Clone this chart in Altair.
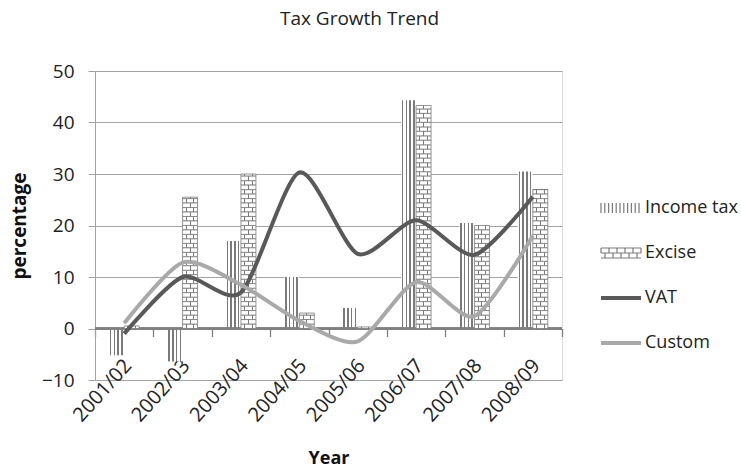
import altair as alt
import pandas as pd
import math

years = ["2001/02", "2002/03", "2003/04", "2004/05", "2005/06", "2006/07", "2007/08", "2008/09"]
income_tax = [-5.2, -6.4, 17, 10, 4, 44.3, 20.5, 30.5]
excise = [0.5, 25.5, 30, 3, 0.3, 43.3, 20, 27]
vat = [-1, 10, 7, 30.3, 14.5, 21, 14.3, 25.6]
custom = [1, 12.8, 8.5, 1.5, -2.5, 9, 2.4, 18]
series_names = ["Income tax", "Excise", "VAT", "Custom"]
y_ticks = [-10, 0, 10, 20, 30, 40, 50]

FONT = "Open Sans"
GRID = "#a3a3a3"
AXIS = "#7f7f7f"
BAR_GRAY = "#7a7a7a"
VAT_COLOR = "#595959"
CUSTOM_COLOR = "#a9a9a9"

df_income = pd.DataFrame({"Year": years, "Series": "Income tax", "Value": income_tax})
# category boundaries (between the year bands) for the tick marks under the zero line
bounds = list(range(len(years) + 1))
df_bounds = pd.DataFrame({"b": bounds, "t0": 0.0})

# brick rows for the excise pattern
ROW = 0.87
rows = []
for yr, v in zip(years, excise):
    n = max(1, math.ceil(v / ROW - 1e-9))
    for k in range(n):
        rows.append({"Year": yr, "Series": "Excise", "y0": k * ROW,
                     "y1": min((k + 1) * ROW, v), "parity": k % 2})
df_bricks = pd.DataFrame(rows)

df_lines = pd.DataFrame({
    "Year": years * 2,
    "Series": ["VAT"] * len(years) + ["Custom"] * len(years),
    "Value": vat + custom,
})
df_legend = pd.DataFrame({"Series": series_names})


def stripes(centers, w, color, bg="white"):
    stops = []
    for c in centers:
        a, b = max(0.0, c - w / 2), min(1.0, c + w / 2)
        stops += [{"offset": a, "color": bg}, {"offset": a, "color": color},
                  {"offset": b, "color": color}, {"offset": b, "color": bg}]
    stops = [{"offset": 0, "color": bg}] + stops + [{"offset": 1, "color": bg}]
    return {"gradient": "linear", "x1": 0, "x2": 1, "y1": 0, "y2": 0, "stops": stops}


income_fill = stripes([0.1, 0.35, 0.6, 0.85], 0.1, BAR_GRAY)
brick_a = stripes([0.25, 0.75], 0.06, BAR_GRAY)
brick_b = stripes([0.5], 0.06, BAR_GRAY)

x_scale = alt.Scale(paddingInner=0, paddingOuter=0)
xo_scale = alt.Scale(domain=["Income tax", "Excise"], paddingInner=0, paddingOuter=0.947)
y_scale = alt.Scale(domain=[-10, 50], nice=False, zero=False)

label_axis = alt.Axis(
    orient="bottom",
    title="Year", titleFont=FONT, titleFontSize=18, titleFontWeight="bold", titleColor="#111",
    titleY=78, titleBaseline="middle",
    labelAngle=-48, labelAlign="right", labelBaseline="middle", labelPadding=-18, labelOffset=4,
    labelFont=FONT, labelFontSize=20, labelColor="#222",
    ticks=False, tickSize=0, domain=False, grid=False,
)
y_axis = alt.Axis(
    values=y_ticks, title="percentage", titleFont=FONT, titleFontSize=19, titleFontWeight="bold",
    titleColor="#111", titleX=-76, titleY=154.5, titleBaseline="middle",
    labelFont=FONT, labelFontSize=19, labelColor="#222", labelPadding=14,
    tickSize=7, tickColor=GRID, domainColor=GRID, gridColor=GRID, gridWidth=1,
)

income = alt.Chart(df_income).mark_bar(fill=income_fill, strokeWidth=0).encode(
    x=alt.X("Year:N", sort=years, scale=x_scale, axis=label_axis),
    xOffset=alt.XOffset("Series:N", scale=xo_scale),
    y=alt.Y("Value:Q", scale=y_scale, axis=y_axis),
)

# horizontal category axis line at zero
zero_line = alt.Chart(df_bounds).mark_rule(color=AXIS, strokeWidth=1.3).encode(
    y=alt.datum(0))

bricks_a = alt.Chart(df_bricks).transform_filter("datum.parity == 0").mark_bar(
    fill=brick_a, stroke=BAR_GRAY, strokeWidth=0.8).encode(
    x=alt.X("Year:N", sort=years),
    xOffset=alt.XOffset("Series:N"),
    y=alt.Y("y0:Q"), y2="y1:Q",
)
bricks_b = alt.Chart(df_bricks).transform_filter("datum.parity == 1").mark_bar(
    fill=brick_b, stroke=BAR_GRAY, strokeWidth=0.8).encode(
    x=alt.X("Year:N", sort=years),
    xOffset=alt.XOffset("Series:N"),
    y=alt.Y("y0:Q"), y2="y1:Q",
)

vat_line = alt.Chart(df_lines).transform_filter("datum.Series == 'VAT'").mark_line(
    stroke=VAT_COLOR, strokeWidth=4, interpolate="cardinal", tension=0.25).encode(
    x=alt.X("Year:N", sort=years), y="Value:Q")
custom_line = alt.Chart(df_lines).transform_filter("datum.Series == 'Custom'").mark_line(
    stroke=CUSTOM_COLOR, strokeWidth=4, interpolate="cardinal", tension=0.25).encode(
    x=alt.X("Year:N", sort=years), y="Value:Q")

# legend symbol paths (unit box -1..1)
it_path = "".join(f"M{x:.2f},-0.25V0.25" for x in [-1 + 0.19 * i for i in range(11)])
ex_path = ("M-1,-0.25H1M-1,0H1M-1,0.25H1"
           + "".join(f"M{x:.2f},-0.25V0" for x in [-1, -0.6, -0.2, 0.2, 0.6, 1])
           + "".join(f"M{x:.2f},0V0.25" for x in [-0.8, -0.4, 0, 0.4, 0.8]))
line_path = "".join(f"M-1,{y:.3f}H1" for y in [-0.07, -0.035, 0, 0.035, 0.07])

legend_cfg = dict(title=None, orient="none", legendX=505, legendY=116,
                  symbolSize=1600, symbolStrokeWidth=1.2, symbolOpacity=1,
                  labelFont=FONT, labelFontSize=18, labelColor="#222",
                  labelOffset=3, rowPadding=15, padding=0)

legend_layer = alt.Chart(df_legend).mark_point(opacity=0, filled=False).encode(
    stroke=alt.Stroke("Series:N", scale=alt.Scale(domain=series_names,
                      range=[BAR_GRAY, BAR_GRAY, VAT_COLOR, CUSTOM_COLOR]),
                      legend=alt.Legend(**legend_cfg)),
    shape=alt.Shape("Series:N", scale=alt.Scale(domain=series_names,
                    range=[it_path, ex_path, line_path, line_path]),
                    legend=alt.Legend(**legend_cfg)),
)

band_layers = alt.layer(income, zero_line, bricks_a, bricks_b, vat_line, custom_line, legend_layer)

# category boundary ticks hanging below the zero line, drawn by an axis moved up to y = 0
tick_axis = alt.Axis(orient="bottom", offset=-51.5, values=bounds, labels=False, domain=False,
                     grid=False, ticks=True, tickSize=8, tickColor=AXIS, tickWidth=1.3, title=None)
cat_ticks = alt.Chart(df_bounds).mark_point(opacity=0).encode(
    x=alt.X("b:Q", scale=alt.Scale(domain=[0, len(years)], nice=False, zero=False), axis=tick_axis),
    y=alt.Y("t0:Q"))

chart = alt.layer(band_layers, cat_ticks).resolve_scale(x="independent").properties(
    width=467, height=309,
    title=alt.TitleParams("Tax Growth Trend", font=FONT, fontSize=19, fontWeight="normal",
                          color="#222", anchor="middle", dx=31, offset=33),
    autosize="none",
    padding={"left": 95, "top": 71, "right": 179, "bottom": 89},
).configure_view(stroke=None).configure(background="white")

chart.save("out.html", embed_options={"renderer": "svg", "actions": False})
